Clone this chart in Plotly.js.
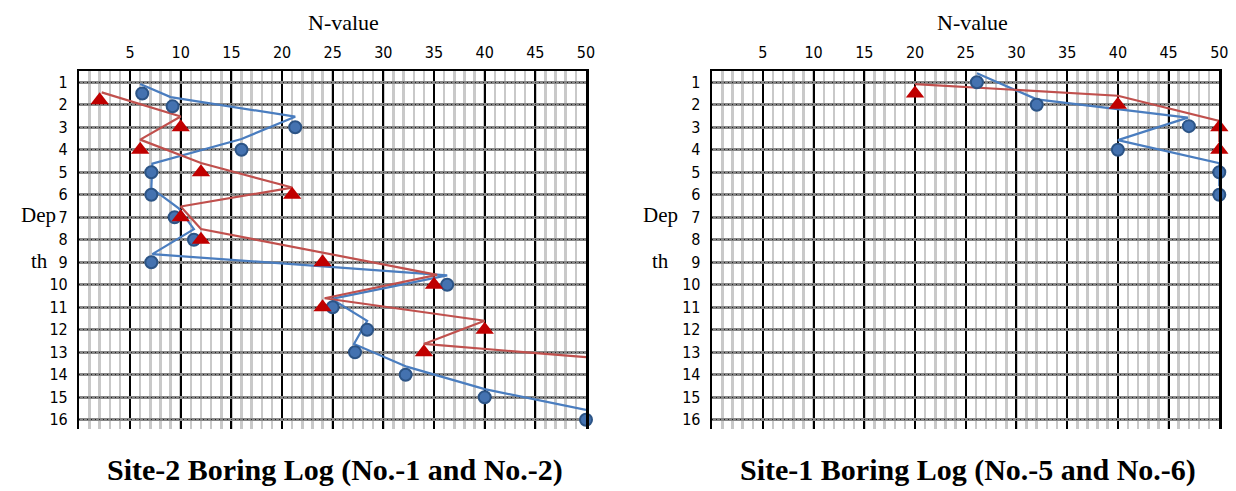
<!DOCTYPE html>
<html>
<head>
<meta charset="utf-8">
<script src="https://cdn.plot.ly/plotly-3.0.1.min.js"></script>
<style>
  html, body { margin: 0; padding: 0; background: #ffffff; }
  #chart { width: 1236px; height: 491px; }
</style>
</head>
<body>
<div id="chart"></div>
<script>
// ---------- tick labels ----------
const nTicks = [5, 10, 15, 20, 25, 30, 35, 40, 45, 50];
const depthTicks = [1, 2, 3, 4, 5, 6, 7, 8, 9, 10, 11, 12, 13, 14, 15, 16];

// ---------- Site-2 (left panel) ----------
// No.-1 : blue circles
const s2BlueN     = [6.2, 9.2, 21.3, 16, 7.1, 7.1, 9.4, 11.3, 7.1, 36.3, 25, 28.4, 27.2, 32.2, 40, 50];
const s2BlueDepth = [1.5, 2.07, 3, 4, 5, 6, 7, 8, 9, 10, 11, 12, 13, 14, 15, 16];
// No.-1 : blue line
const s2BlueLineN     = [6, 9, 21.3, 16, 7.2, 7.1, 9.8, 11.3, 7.2, 36.3, 24.9, 28.4, 27.1, 32.3, 40, 50];
const s2BlueLineDepth = [1.08, 1.66, 2.53, 3.52, 4.62, 5.7, 6.6, 7.53, 8.64, 9.58, 10.63, 11.6, 12.63, 13.64, 14.64, 15.56];
// No.-2 : red triangles
const s2RedN     = [2, 10, 6, 12, 21, 10, 12, 24, 35, 24, 40, 34];
const s2RedDepth = [1.8, 3, 4, 5, 6, 7, 8, 9, 10, 11, 12, 13];
// No.-2 : red line
const s2RedLineN     = [2.2, 10, 6, 12, 21, 10, 12, 24, 35.3, 24.2, 40, 34, 50];
const s2RedLineDepth = [1.45, 2.52, 3.55, 4.59, 5.68, 6.52, 7.52, 8.57, 9.56, 10.6, 11.6, 12.63, 13.22];

// ---------- Site-1 (right panel) ----------
const s1BlueN     = [26.1, 32, 47, 40, 50, 50];
const s1BlueDepth = [1, 2, 2.95, 4, 5, 6];
const s1BlueLineN     = [26.1, 32, 46.9, 40, 50, 50];
const s1BlueLineDepth = [0.6, 1.76, 2.57, 3.57, 4.6, 5.62];
const s1RedN     = [20, 40, 50, 50];
const s1RedDepth = [1.5, 2, 3, 4];
const s1RedLineN     = [20, 40, 50, 50];
const s1RedLineDepth = [1.08, 1.6, 2.72, 3.65];

// ---------- styles ----------
const blueLine = { color: '#4a7dbf', width: 2.2 };
const redLine = { color: '#c0504d', width: 2.2 };
const circleMarker = { symbol: 'circle', size: 12, color: '#4472b0', line: { color: '#2c5486', width: 2 } };
const triMarker = { symbol: 'triangle-up', size: 16, color: '#c00000', line: { width: 0 } };

function lineTrace(x, y, line, xa, ya) {
  return { type: 'scatter', mode: 'lines', x: x, y: y, line: line, xaxis: xa, yaxis: ya,
           hoverinfo: 'skip', showlegend: false, cliponaxis: false };
}
function markerTrace(x, y, marker, xa, ya) {
  return { type: 'scatter', mode: 'markers', x: x, y: y, marker: marker, xaxis: xa, yaxis: ya,
           hoverinfo: 'skip', showlegend: false, cliponaxis: false };
}
function emptyTrace(xa, ya) {
  return { type: 'scatter', mode: 'lines', x: [], y: [], xaxis: xa, yaxis: ya, hoverinfo: 'skip', showlegend: false };
}

const data = [
  emptyTrace('x3', 'y3'),
  emptyTrace('x4', 'y4'),
  lineTrace(s2BlueLineN, s2BlueLineDepth, blueLine, 'x', 'y'),
  lineTrace(s2RedLineN, s2RedLineDepth, redLine, 'x', 'y'),
  markerTrace(s2BlueN, s2BlueDepth, circleMarker, 'x', 'y'),
  markerTrace(s2RedN, s2RedDepth, triMarker, 'x', 'y'),
  lineTrace(s1BlueLineN, s1BlueLineDepth, blueLine, 'x2', 'y2'),
  lineTrace(s1RedLineN, s1RedLineDepth, redLine, 'x2', 'y2'),
  markerTrace(s1BlueN, s1BlueDepth, circleMarker, 'x2', 'y2'),
  markerTrace(s1RedN, s1RedDepth, triMarker, 'x2', 'y2')
];

const W = 1236, H = 491;
const yDom = [1 - 429 / H, 1 - 71 / H];
const xDomL = [79.4 / W, 586 / W];
const xDomR = [712.2 / W, 1219.3 / W];
const yRange = [16.41, 0.5];
const tickFont = { family: '"Liberation Sans Narrow", "DejaVu Sans Condensed", "Liberation Sans", sans-serif', size: 16, color: '#000' };

function mainX(dom, anchor) {
  return {
    domain: dom, anchor: anchor, side: 'top', range: [0, 50],
    tickmode: 'array', tickvals: nTicks, ticktext: nTicks.map(String),
    ticks: '', showticklabels: true, tickfont: tickFont, ticklabelstandoff: 4,
    showgrid: true, gridcolor: '#000000', gridwidth: 2,
    minor: { dtick: 1, tick0: 0, showgrid: true, gridcolor: '#c9c9c9', gridwidth: 2.5 },
    showline: true, linecolor: '#000', linewidth: 2.5, mirror: false,
    zeroline: false, fixedrange: true
  };
}
function mainY(anchor) {
  return {
    domain: yDom, anchor: anchor, range: yRange, autorange: false,
    tickmode: 'array', tickvals: depthTicks, ticktext: depthTicks.map(String),
    ticks: '', tickfont: tickFont, ticklabelstandoff: 6,
    showgrid: true, gridcolor: '#888888', gridwidth: 3,
    showline: true, linecolor: '#000', linewidth: 2.5, mirror: true,
    zeroline: false, fixedrange: true
  };
}
function overX(over, dom) {
  return { domain: dom, overlaying: over, range: [0, 50], showgrid: false, showticklabels: false,
           showline: false, zeroline: false, ticks: '', fixedrange: true };
}
function overY(over, anchor) {
  return { domain: yDom, overlaying: over, anchor: anchor, range: yRange, autorange: false,
           tickmode: 'array', tickvals: depthTicks, showticklabels: false, ticks: '',
           showgrid: true, gridcolor: '#222222', gridwidth: 1, griddash: '1px,3px',
           showline: false, zeroline: false, fixedrange: true };
}

const serif = '"Liberation Serif", "Times New Roman", serif';
function ann(text, xpx, ypx, size, bold) {
  return { text: bold ? '<b>' + text + '</b>' : text, xref: 'paper', yref: 'paper',
           x: xpx / W, y: 1 - ypx / H, xanchor: 'center', yanchor: 'middle', showarrow: false,
           font: { family: serif, size: size, color: '#000' } };
}

const layout = {
  width: W, height: H,
  margin: { l: 0, r: 0, t: 0, b: 0 },
  paper_bgcolor: '#ffffff', plot_bgcolor: '#ffffff',
  showlegend: false,
  xaxis: mainX(xDomL, 'y'),
  yaxis: mainY('x'),
  xaxis2: mainX(xDomR, 'y2'),
  yaxis2: mainY('x2'),
  xaxis3: overX('x', xDomL),
  yaxis3: overY('y', 'x3'),
  xaxis4: overX('x2', xDomR),
  yaxis4: overY('y2', 'x4'),
  annotations: [
    ann('N-value', 343, 22, 22, false),
    ann('N-value', 973, 22, 22, false),
    ann('Dep', 38, 215, 21, false),
    ann('th', 39, 261, 21, false),
    ann('Dep', 661, 215, 21, false),
    ann('th', 661, 261, 21, false),
    ann('Site-2 Boring Log (No.-1 and No.-2)', 335, 470, 30, true),
    ann('Site-1 Boring Log (No.-5 and No.-6)', 968, 470, 30, true)
  ]
};

Plotly.newPlot('chart', data, layout, { staticPlot: true, displayModeBar: false });
</script>
</body>
</html>
